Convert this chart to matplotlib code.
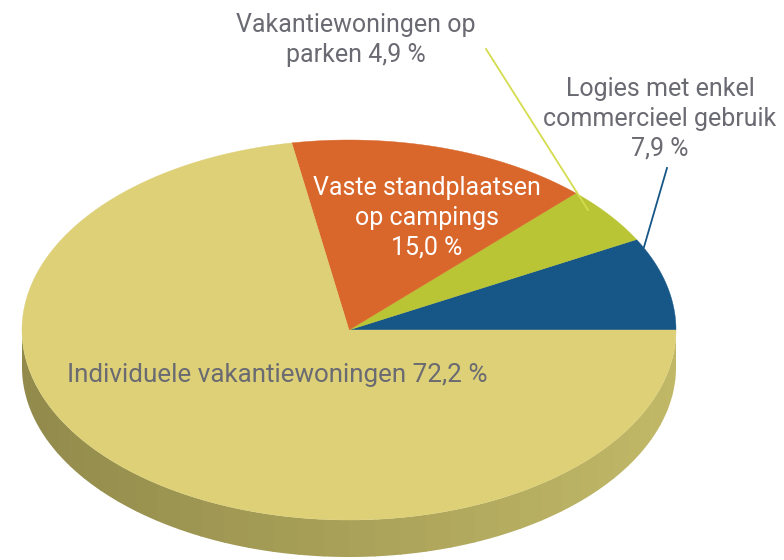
import matplotlib
matplotlib.use("Agg")
import matplotlib.pyplot as plt
import numpy as np
from matplotlib.colors import to_rgb
from matplotlib.patches import Polygon

# slice data, counter-clockwise from 3 o'clock
shares = [7.9, 4.9, 15.0, 72.2]
names = ["Logies met enkel\ncommercieel gebruik",
         "Vakantiewoningen op\nparken",
         "Vaste standplaatsen\nop campings",
         "Individuele vakantiewoningen"]
colors = ["#175788", "#BAC535", "#D9662A", "#DDD077"]

# pie geometry in pixel space
CX, CY = 349, 330
RX, RY = 327, 190
DEPTH = 37
SIDE_DARK = "#918A4B"
SIDE_LIGHT = "#C1B867"
TEXT_GRAY = "#6A6A72"

plt.rcParams['font.family'] = ['Roboto', 'DejaVu Sans']

fig = plt.figure(figsize=(7.84, 5.6), dpi=100)
ax = fig.add_axes([0, 0, 1, 1])
ax.set_xlim(0, 784)
ax.set_ylim(560, 0)
ax.axis('off')


def ell(t):
    return CX + RX * np.cos(t), CY - RY * np.sin(t)


# side wall, front half only (lower half of the ellipse)
n_band = 40
edges = np.linspace(np.pi, 2 * np.pi, n_band + 1)
c0, c1 = np.array(to_rgb(SIDE_DARK)), np.array(to_rgb(SIDE_LIGHT))
for i in range(n_band):
    t = np.linspace(edges[i], edges[i + 1] + 0.004, 8)
    x, y = ell(t)
    pts = np.column_stack([np.r_[x, x[::-1]], np.r_[y, y[::-1] + DEPTH]])
    f = (np.cos((edges[i] + edges[i + 1]) / 2) + 1) / 2
    ax.add_patch(Polygon(pts, closed=True, fc=c0 + (c1 - c0) * f, ec='none'))

# top face
bounds = np.r_[0, np.cumsum(shares)] / 100 * 2 * np.pi
for i, col in enumerate(colors):
    t = np.linspace(bounds[i], bounds[i + 1], 200)
    x, y = ell(t)
    pts = np.column_stack([np.r_[CX, x], np.r_[CY, y]])
    ax.add_patch(Polygon(pts, closed=True, fc=col, ec=col, lw=0.3))


def pct(v):
    return f"{v:.1f}".replace(".", ",") + " %"


fs = 18
ax.text(277, 375, f"{names[3]} {pct(shares[3])}", color=TEXT_GRAY,
        fontsize=18.7, ha='center', va='center')
ax.text(427, 218, f"{names[2]}\n{pct(shares[2])}", color='white',
        fontsize=fs, ha='center', va='center', linespacing=1.3)
ax.text(356, 40, f"{names[1]} {pct(shares[1])}", color=TEXT_GRAY,
        fontsize=fs, ha='center', va='center', linespacing=1.3)
ax.text(660, 119, f"{names[0]}\n{pct(shares[0])}", color=TEXT_GRAY,
        fontsize=fs, ha='center', va='center', linespacing=1.3)

# leader lines
ax.plot([486, 588], [49, 210], color="#D4DC4E", lw=1.3)
ax.plot([667, 644], [168, 247], color="#175788", lw=1.3)

fig.savefig("out.png", dpi=100)
